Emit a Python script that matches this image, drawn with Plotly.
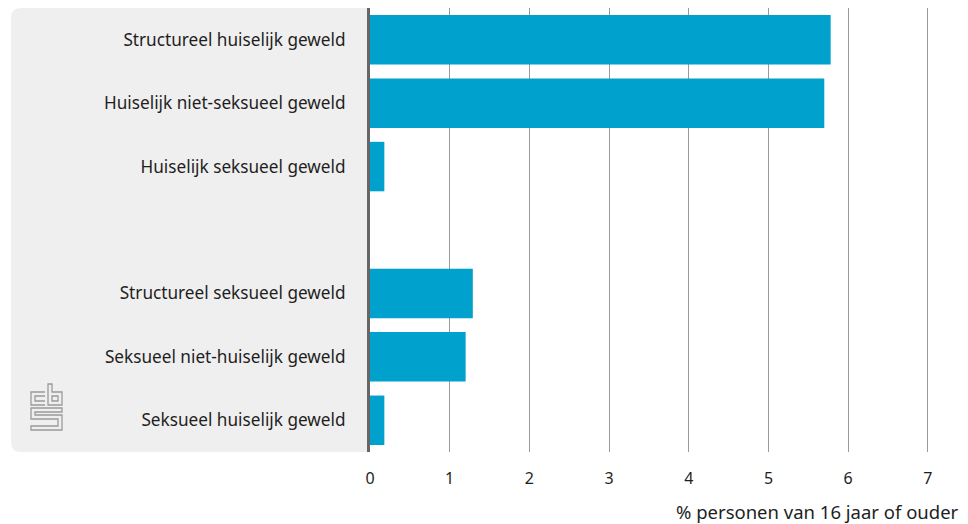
import plotly.graph_objects as go

# ---- data ----
group_huiselijk = ["Structureel huiselijk geweld", "Huiselijk niet-seksueel geweld", "Huiselijk seksueel geweld"]
values_huiselijk = [5.78, 5.70, 0.18]
group_seksueel = ["Structureel seksueel geweld", "Seksueel niet-huiselijk geweld", "Seksueel huiselijk geweld"]
values_seksueel = [1.29, 1.20, 0.18]
x_ticks = [0, 1, 2, 3, 4, 5, 6, 7]
x_title = "% personen van 16 jaar of ouder"

# ---- build positions (top to bottom, one blank slot between groups) ----
labels = group_huiselijk + group_seksueel
values = values_huiselijk + values_seksueel
slots = list(range(len(group_huiselijk))) + [len(group_huiselijk) + 1 + i for i in range(len(group_seksueel))]
n_slots = len(group_huiselijk) + 1 + len(group_seksueel)

W, H = 968, 524
ML, MR, MT, MB = 370, 20, 8, 72
PW, PH = W - ML - MR, H - MT - MB
FONT = "Noto Sans"
BAR = "#00a1cd"
TXT = "#1e1e1e"

fig = go.Figure(go.Bar(
    x=values, y=slots, orientation="h",
    marker=dict(color=BAR, line=dict(width=0)),
    width=0.78, hoverinfo="skip",
))

def px_x(p):
    return (p - ML) / PW

def px_y(p):
    return (MT + PH - p) / PH

# grey rounded panel behind labels
x0, x1, y0, y1, r = 11, ML, MT, MT + PH, 10
path = (f"M {px_x(x1)},{px_y(y0)} L {px_x(x0 + r)},{px_y(y0)} "
        f"Q {px_x(x0)},{px_y(y0)} {px_x(x0)},{px_y(y0 + r)} "
        f"L {px_x(x0)},{px_y(y1 - r)} Q {px_x(x0)},{px_y(y1)} {px_x(x0 + r)},{px_y(y1)} "
        f"L {px_x(x1)},{px_y(y1)} Z")
shapes = [dict(type="path", xref="paper", yref="paper", path=path,
               fillcolor="#efefef", line=dict(width=0), layer="below")]

# cbs logo (line drawing)
def poly(pts, closed=False):
    s = "M " + " L ".join(f"{px_x(a)},{px_y(b)}" for a, b in pts)
    return s + (" Z" if closed else "")

logo_paths = [
    poly([(45, 392), (31, 392), (31, 405), (45, 405)]),
    poly([(45, 396), (35, 396), (35, 401), (45, 401)]),
    poly([(48, 384), (52, 384), (52, 392), (62, 392), (62, 405), (48, 405)], closed=True),
    poly([(52, 396), (58, 396), (58, 401), (52, 401)], closed=True),
    poly([(62, 408), (31, 408), (31, 419), (58, 419), (58, 426), (31, 426), (31, 430),
          (62, 430), (62, 415), (35, 415), (35, 412), (62, 412)], closed=True),
]
for p in logo_paths:
    shapes.append(dict(type="path", xref="paper", yref="paper", path=p,
                       line=dict(color="#9a9a9a", width=1.3), layer="above"))

fig.update_layout(
    width=W, height=H,
    margin=dict(l=ML, r=MR, t=MT, b=MB, pad=0),
    plot_bgcolor="white", paper_bgcolor="white",
    showlegend=False,
    font=dict(family=FONT, color=TXT, size=16),
    shapes=shapes,
    xaxis=dict(
        range=[0, PW / 79.7], tickvals=x_ticks, ticktext=[str(t) for t in x_ticks],
        showgrid=True, gridcolor="#9a9a9a", gridwidth=1,
        zeroline=False, showline=False, ticks="", ticklabelstandoff=15,
        tickfont=dict(family=FONT, size=16, color=TXT), fixedrange=True,
    ),
    yaxis=dict(
        range=[n_slots - 0.5, -0.5], tickvals=slots, ticktext=labels,
        showgrid=False, zeroline=False, showline=True, linecolor="#666666", linewidth=3,
        ticks="", ticklabelstandoff=18,
        tickfont=dict(family=FONT, size=17.2, color=TXT), fixedrange=True,
    ),
    annotations=[dict(
        text=x_title, xref="paper", yref="paper", x=px_x(961), y=px_y(511),
        xanchor="right", yanchor="middle", showarrow=False,
        font=dict(family=FONT, size=18.5, color=TXT),
    )],
)

fig.write_html("out.html", config={"displayModeBar": False},
               post_script="document.body.style.margin='0';")
